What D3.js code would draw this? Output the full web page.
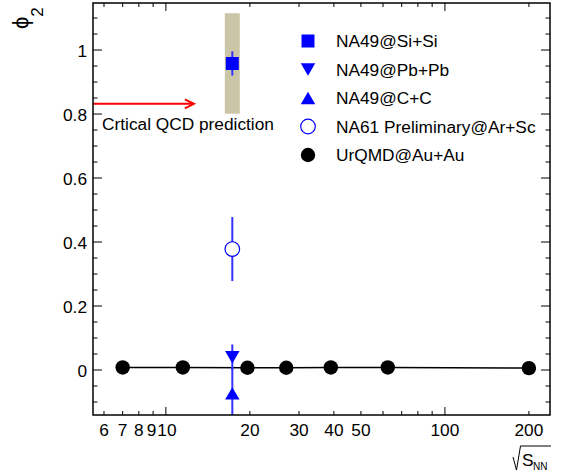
<!DOCTYPE html>
<html>
<head>
<meta charset="utf-8">
<script src="https://cdn.jsdelivr.net/npm/d3@7"></script>
<style>
  body { margin: 0; background: #fff; }
  svg { font-family: "Liberation Sans", Arial, Helvetica, sans-serif; }
</style>
</head>
<body>
<script>
// data
const urqmdEnergy = [7.0, 11.5, 19.6, 27, 39, 62.4, 200];
const urqmdPhi2   = [0.008, 0.008, 0.007, 0.007, 0.008, 0.008, 0.006];

const na49Energy = 17.3;
const siSi = {y: 0.958, err: 0.038, sys: 0.157};
const pbPb = {y: 0.040, err: 0.040};
const cC   = {y: -0.073, err: 0.080};
const na61 = {x: 17.3, y: 0.378, err: 0.100};

const criticalPhi2 = 0.832;
const arrowEnd = 12.6;

const xMajor = [10, 100];
const xMinor = [6, 7, 8, 9, 20, 30, 40, 50, 60, 70, 80, 90, 200];
const xLabels = [6, 7, 8, 9, 10, 20, 30, 40, 50, 100, 200];
const yMajor = [0, 0.2, 0.4, 0.6, 0.8, 1];
const yMinor = d3.range(-0.1, 1.15, 0.05).map(v => +v.toFixed(2)).filter(v => Math.abs(v*5 - Math.round(v*5)) > 1e-6);
const yLabels = ["0", "0.2", "0.4", "0.6", "0.8", "1"];

const legendItems = [
  {label: "NA49@Si+Si", sym: "square"},
  {label: "NA49@Pb+Pb", sym: "down"},
  {label: "NA49@C+C", sym: "up"},
  {label: "NA61 Preliminary@Ar+Sc", sym: "open"},
  {label: "UrQMD@Au+Au", sym: "dot"}
];

const W = 568, H = 474;
const margin = {top: 3, right: 18, bottom: 59, left: 93};
const pw = W - margin.left - margin.right,
      ph = H - margin.top - margin.bottom;
const fs = 17.3;

const x = d3.scaleLog().domain([5.48, 238]).range([0, pw]);
const y = d3.scaleLinear().domain([-0.1406, 1.147]).range([ph, 0]);

const blue = "#0000ff";

const svg = d3.select("body").append("svg")
  .attr("width", W).attr("height", H);

svg.append("defs").append("clipPath").attr("id", "clip")
  .append("rect").attr("width", pw).attr("height", ph);

const g = svg.append("g")
  .attr("transform", "translate(" + margin.left + "," + margin.top + ")");

// markers
function markerPath(sym, s) {
  const h = s / 2;
  if (sym == "square") return "M" + (-h) + "," + (-h) + "H" + h + "V" + h + "H" + (-h) + "Z";
  if (sym == "down") return "M" + (-h) + "," + (-h*0.86) + "L" + h + "," + (-h*0.86) + "L0," + (h*0.86) + "Z";
  if (sym == "up") return "M" + (-h) + "," + (h*0.86) + "L" + h + "," + (h*0.86) + "L0," + (-h*0.86) + "Z";
  return null;
}

function drawMarker(sel, sym, cx, cy) {
  if (sym == "open") {
    sel.append("circle").attr("cx", cx).attr("cy", cy).attr("r", 7.3)
      .attr("fill", "#fff").attr("stroke", blue).attr("stroke-width", 1.2);
  } else if (sym == "dot") {
    sel.append("circle").attr("cx", cx).attr("cy", cy).attr("r", 7.2).attr("fill", "#000");
  } else {
    const s = sym == "square" ? 13 : 14.5;
    sel.append("path").attr("d", markerPath(sym, s))
      .attr("transform", "translate(" + cx + "," + cy + ")")
      .attr("fill", blue);
  }
}

const plot = g.append("g").attr("clip-path", "url(#clip)");

// systematic band for Si+Si
plot.append("rect")
  .attr("x", x(na49Energy) - 7.5)
  .attr("width", 15)
  .attr("y", y(siSi.y + siSi.sys))
  .attr("height", y(siSi.y - siSi.sys) - y(siSi.y + siSi.sys))
  .attr("fill", "#ccc6a9");

// UrQMD line
const urqmd = urqmdEnergy.map((e, i) => ({x: e, y: urqmdPhi2[i]}));
plot.append("path")
  .datum(urqmd)
  .attr("fill", "none").attr("stroke", "#000").attr("stroke-width", 1.5)
  .attr("d", d3.line().x(d => x(d.x)).y(d => y(d.y)));

// error bars
const errs = [
  {x: na49Energy, y: siSi.y, e: siSi.err},
  {x: na49Energy, y: pbPb.y, e: pbPb.err},
  {x: na49Energy, y: cC.y, e: cC.err},
  {x: na61.x, y: na61.y, e: na61.err}
];
plot.selectAll(".err").data(errs).enter().append("line")
  .attr("x1", d => x(d.x)).attr("x2", d => x(d.x))
  .attr("y1", d => y(d.y + d.e)).attr("y2", d => y(d.y - d.e))
  .attr("stroke", "#3333ff").attr("stroke-width", 2);

drawMarker(plot, "square", x(na49Energy), y(siSi.y));
drawMarker(plot, "down", x(na49Energy), y(pbPb.y));
drawMarker(plot, "up", x(na49Energy), y(cC.y));
drawMarker(plot, "open", x(na61.x), y(na61.y));

urqmd.forEach(d => drawMarker(plot, "dot", x(d.x), y(d.y)));

// critical QCD arrow
const ay = y(criticalPhi2), ax = x(arrowEnd);
g.append("line").attr("x1", 0).attr("x2", ax).attr("y1", ay).attr("y2", ay)
  .attr("stroke", "#ff0000").attr("stroke-width", 2);
g.append("path")
  .attr("d", "M" + (ax - 9) + "," + (ay - 4.5) + "L" + ax + "," + ay + "L" + (ax - 9) + "," + (ay + 4.5))
  .attr("fill", "none").attr("stroke", "#ff0000").attr("stroke-width", 2);
g.append("text").attr("x", 9).attr("y", ay + 26)
  .attr("font-size", fs).text("Crtical QCD prediction");

// frame
g.append("rect").attr("width", pw).attr("height", ph)
  .attr("fill", "none").attr("stroke", "#000").attr("stroke-width", 1.5);

// x ticks bottom & top
const xt = xMajor.map(v => ({v: v, len: 8})).concat(xMinor.map(v => ({v: v, len: 4})));
g.selectAll(".xtb").data(xt).enter().append("line")
  .attr("x1", d => x(d.v)).attr("x2", d => x(d.v))
  .attr("y1", ph).attr("y2", d => ph - d.len)
  .attr("stroke", "#000");
g.selectAll(".xtt").data(xt).enter().append("line")
  .attr("x1", d => x(d.v)).attr("x2", d => x(d.v))
  .attr("y1", 0).attr("y2", d => d.len)
  .attr("stroke", "#000");
// "9" and "10" sit very close together, nudge them apart a touch
g.selectAll(".xl").data(xLabels).enter().append("text")
  .attr("x", d => x(d) + (d == 9 ? -1.5 : d == 10 ? 1 : 0)).attr("y", ph + 21)
  .attr("text-anchor", "middle").attr("font-size", fs)
  .text(d => d);

// y ticks left & right
const yt = yMajor.map(v => ({v: v, len: 9})).concat(yMinor.map(v => ({v: v, len: 4.5})));
g.selectAll(".ytl").data(yt).enter().append("line")
  .attr("x1", 0).attr("x2", d => d.len)
  .attr("y1", d => y(d.v)).attr("y2", d => y(d.v))
  .attr("stroke", "#000");
g.selectAll(".ytr").data(yt).enter().append("line")
  .attr("x1", pw).attr("x2", d => pw - d.len)
  .attr("y1", d => y(d.v)).attr("y2", d => y(d.v))
  .attr("stroke", "#000");
g.selectAll(".yl").data(yMajor).enter().append("text")
  .attr("x", -6).attr("y", d => y(d) + 7)
  .attr("text-anchor", "end").attr("font-size", fs)
  .text((d, i) => yLabels[i]);

// legend
const leg = svg.append("g").attr("transform", "translate(308,41)");
legendItems.forEach((d, i) => {
  const row = leg.append("g").attr("transform", "translate(0," + (i * 28.5) + ")");
  drawMarker(row, d.sym, 0, 0);
  row.append("text").attr("x", 28).attr("y", 6)
    .attr("font-size", fs).text(d.label);
});

// axis titles
const yTitle = svg.append("text")
  .attr("transform", "translate(28,29) rotate(-90)")
  .attr("font-size", 22);
yTitle.append("tspan").text("\u03d5");
yTitle.append("tspan").attr("dy", 15).attr("font-size", 17).text("2");

svg.append("path")
  .attr("d", "M513,457 L516.5,470 L520.5,446 L551,446")
  .attr("fill", "none").attr("stroke", "#000").attr("stroke-width", 1);
svg.append("text").attr("x", 522).attr("y", 466)
  .attr("font-size", fs).text("S");
svg.append("text").attr("x", 533).attr("y", 470)
  .attr("font-size", 10).text("NN");
</script>
</body>
</html>
